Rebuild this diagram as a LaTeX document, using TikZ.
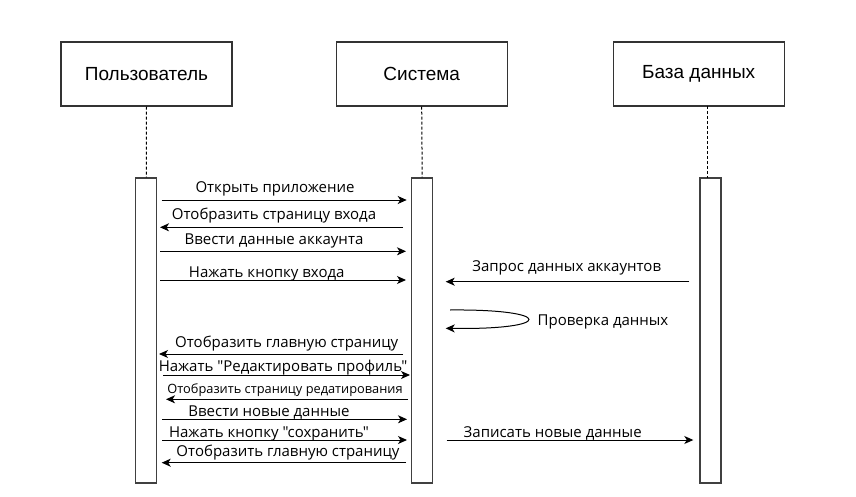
\documentclass[tikz,border=0pt]{standalone}
\usepackage{fontspec}
\setmainfont{Open Sans}[Ligatures=TeXOff]
\newfontfamily\hdrfont{Liberation Sans}
\usetikzlibrary{arrows.meta}
\tikzset{
  hdr/.style={draw=black!80, line width=1.2pt, minimum width=171pt, minimum height=64pt, inner sep=0pt, font=\hdrfont\fontsize{19}{22}\selectfont},
  actbar/.style={draw=black!75, line width=1.2pt, fill=white, minimum width=21pt, inner sep=0pt},
  life/.style={draw=black, line width=1pt, dash pattern=on 3pt off 2pt},
  msg/.style={draw=black, line width=1pt, -{Stealth[length=9pt,width=8pt,inset=2.5pt]}},
  lbl/.style={font=\fontsize{15}{18}\selectfont, inner sep=0pt, yshift=-1.2pt},
  slbl/.style={font=\fontsize{12.8}{15}\selectfont, inner sep=0pt, yshift=-1pt}
}
\begin{document}
\begin{tikzpicture}[x=1pt,y=-1pt]
\useasboundingbox (0,0) rectangle (856,497);
% headers
\node[hdr] (user) at (146.5,74) {Пользователь};
\node[hdr] (sys) at (421.7,74) {Система};
\node[hdr] (db) at (698.7,74) {База данных};
% activation bars
\node[actbar, minimum height=305pt] (a1) at (146.3,330.5) {};
\node[actbar, minimum height=305pt] (a2) at (422.2,330.5) {};
\node[actbar, minimum height=305pt] (a3) at (710.5,330.5) {};
% lifelines
\coordinate (l3top) at (707.5,106);
\coordinate (l3bot) at (707.5,178);
\draw[life] (user.south) -- (a1.north);
\draw[life] (sys.south) -- (a2.north);
\draw[life] (l3top) -- (l3bot);
% messages
\coordinate (m1s) at (161.7,200); \coordinate (m1e) at (406.7,200);
\draw[msg] (m1s) -- (m1e);
\node[lbl] (t1) at (275,188) {Открыть приложение};
\coordinate (m2s) at (403,227.3); \coordinate (m2e) at (160,227.3);
\draw[msg] (m2s) -- (m2e);
\node[lbl] (t2) at (274,214) {Отобразить страницу входа};
\coordinate (m3s) at (160,251.3); \coordinate (m3e) at (406,251.3);
\draw[msg] (m3s) -- (m3e);
\node[lbl] (t3) at (274,240) {Ввести данные аккаунта};
\coordinate (m4s) at (160,280); \coordinate (m4e) at (406,280);
\draw[msg] (m4s) -- (m4e);
\node[lbl] (t4) at (266.7,272.5) {Нажать кнопку входа};
\coordinate (m11s) at (689.3,281.7); \coordinate (m11e) at (445.7,281.7);
\draw[msg] (m11s) -- (m11e);
\node[lbl] (t11) at (566.7,267) {Запрос данных аккаунтов};
\coordinate (m12s) at (450,310); \coordinate (m12e) at (445.7,328.3);
\draw[msg] (m12s) .. controls (555,309) and (555,330) .. (m12e);
\node[lbl] (t12) at (603,320.5) {Проверка данных};
\coordinate (m5s) at (403,354); \coordinate (m5e) at (159,354);
\draw[msg] (m5s) -- (m5e);
\node[lbl] (t5) at (286.7,342.5) {Отобразить главную страницу};
\coordinate (m6s) at (163,375); \coordinate (m6e) at (410,375);
\draw[msg] (m6s) -- (m6e);
\node[lbl] (t6) at (283,366) {Нажать "Редактировать профиль"};
\coordinate (m7s) at (408,399.3); \coordinate (m7e) at (166,399.3);
\draw[msg] (m7s) -- (m7e);
\node[slbl] (t7) at (285,389) {Отобразить страницу редатирования};
\coordinate (m8s) at (162,419.3); \coordinate (m8e) at (407,419.3);
\draw[msg] (m8s) -- (m8e);
\node[lbl] (t8) at (269,411) {Ввести новые данные};
\coordinate (m9s) at (162,440); \coordinate (m9e) at (407,440);
\draw[msg] (m9s) -- (m9e);
\node[lbl] (t9) at (269,432.5) {Нажать кнопку "сохранить"};
\coordinate (m13s) at (446.7,440); \coordinate (m13e) at (693.3,440);
\draw[msg] (m13s) -- (m13e);
\node[lbl] (t13) at (552.7,432) {Записать новые данные};
\coordinate (m10s) at (406,462.7); \coordinate (m10e) at (161.7,462.7);
\draw[msg] (m10s) -- (m10e);
\node[lbl] (t10) at (288,451.5) {Отобразить главную страницу};
\end{tikzpicture}
\end{document}
